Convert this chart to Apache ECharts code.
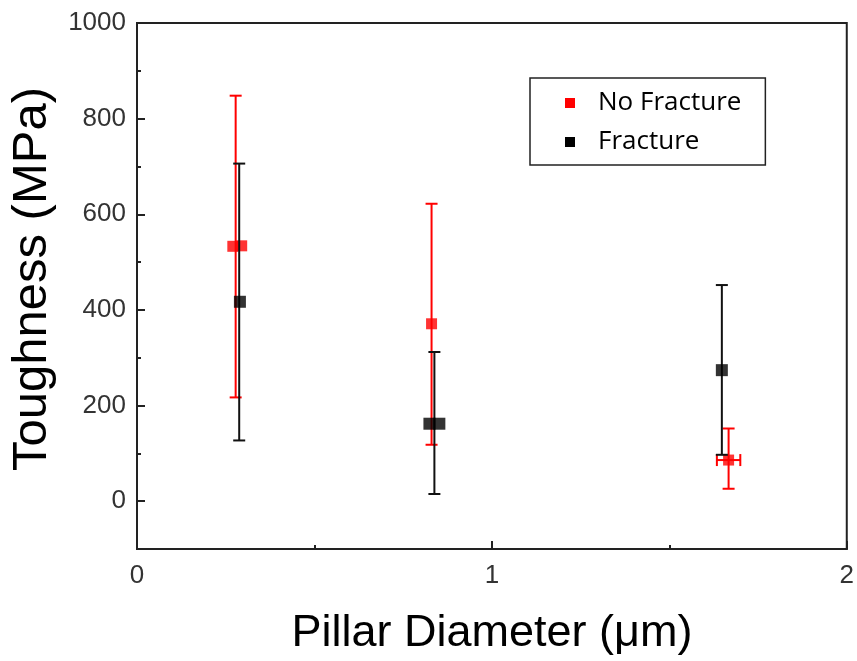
<!DOCTYPE html>
<html>
<head>
<meta charset="utf-8">
<script src="https://cdn.jsdelivr.net/npm/echarts@6/dist/echarts.min.js"></script>
<style>
  html, body { margin: 0; padding: 0; background: #fff; }
  #chart { width: 857px; height: 661px; }
</style>
</head>
<body>
<div id="chart"></div>
<script>
// Toughness of pillars vs. pillar diameter
const seriesNames = ['No Fracture', 'Fracture'];

// No Fracture points
const noFracX = [0.27, 0.295, 0.83, 1.667];
const noFracY = [533, 534, 371, 86];
// No Fracture vertical error bars
const noFracErrX = [0.278, 0.83, 1.667];
const noFracErrLow = [217, 118, 26];
const noFracErrHigh = [848, 622, 152];
// No Fracture horizontal error bar (largest pillar)
const noFracHErrY = [86];
const noFracHErrLow = [1.634];
const noFracHErrHigh = [1.70];

// Fracture points
const fracX = [0.29, 0.824, 0.852, 1.648];
const fracY = [417, 162, 162, 274];
// Fracture vertical error bars
const fracErrX = [0.288, 0.838, 1.648];
const fracErrLow = [127, 15, 97];
const fracErrHigh = [706, 312, 452];

// Axis ticks
const xTicks = [0, 1, 2];
const yLabelTicks = [0, 200, 400, 600, 800, 1000];
const yMinorTicks = [-100, 100, 300, 500, 700, 900];

const RED = '#ff0000';
const BLACK = '#000000';

function pairs(xs, ys) { return xs.map((x, i) => [x, ys[i]]); }

function vErrData(xs, lo, hi) { return xs.map((x, i) => [x, lo[i], hi[i]]); }

function vErrRender(color) {
  return function (params, api) {
    const x = api.value(0);
    const pLo = api.coord([x, api.value(1)]);
    const pHi = api.coord([x, api.value(2)]);
    const cap = 6;
    const style = { stroke: color, lineWidth: 2 };
    return {
      type: 'group',
      children: [
        { type: 'line', shape: { x1: pLo[0], y1: pLo[1], x2: pHi[0], y2: pHi[1] }, style },
        { type: 'line', shape: { x1: pLo[0] - cap, y1: pLo[1], x2: pLo[0] + cap, y2: pLo[1] }, style },
        { type: 'line', shape: { x1: pHi[0] - cap, y1: pHi[1], x2: pHi[0] + cap, y2: pHi[1] }, style }
      ]
    };
  };
}

function hErrRender(color) {
  return function (params, api) {
    const y = api.value(0);
    const pLo = api.coord([api.value(1), y]);
    const pHi = api.coord([api.value(2), y]);
    const cap = 6;
    const style = { stroke: color, lineWidth: 2 };
    return {
      type: 'group',
      children: [
        { type: 'line', shape: { x1: pLo[0], y1: pLo[1], x2: pHi[0], y2: pHi[1] }, style },
        { type: 'line', shape: { x1: pLo[0], y1: pLo[1] - cap, x2: pLo[0], y2: pLo[1] + cap }, style },
        { type: 'line', shape: { x1: pHi[0], y1: pHi[1] - cap, x2: pHi[0], y2: pHi[1] + cap }, style }
      ]
    };
  };
}

const chart = echarts.init(document.getElementById('chart'), null, { renderer: 'canvas' });

const tickLabelStyle = { color: '#333', fontFamily: 'Liberation Sans, Arial, sans-serif', fontSize: 26 };

chart.setOption({
  animation: false,
  backgroundColor: '#fff',
  color: [RED, BLACK],
  grid: {
    left: 137, right: 9, top: 23, bottom: 111,
    show: true, borderColor: '#222', borderWidth: 2, backgroundColor: 'transparent'
  },
  legend: {
    data: [
      { name: seriesNames[0], itemStyle: { color: RED } },
      { name: seriesNames[1], itemStyle: { color: BLACK } }
    ],
    orient: 'vertical',
    left: 530, top: 78,
    padding: [12, 24, 10, 35],
    itemGap: 13,
    itemWidth: 10, itemHeight: 10,
    icon: 'rect',
    borderColor: '#222', borderWidth: 1.5,
    textStyle: { color: '#000', fontFamily: 'Open Sans, sans-serif', fontSize: 26, padding: [0, 0, 0, 18] }
  },
  xAxis: {
    type: 'value', min: 0, max: 2, interval: 1,
    name: 'Pillar Diameter (\u03bcm)', nameLocation: 'middle', nameGap: 62,
    nameTextStyle: { color: '#000', fontFamily: 'Liberation Sans, Arial, sans-serif', fontSize: 45 },
    axisLine: { show: true, onZero: false, lineStyle: { color: '#222', width: 2 } },
    axisTick: { show: true, inside: true, length: 8, lineStyle: { color: '#222', width: 2 } },
    minorTick: { show: true, splitNumber: 2, length: 4, lineStyle: { color: '#222', width: 2 } },
    axisLabel: Object.assign({ margin: 14, customValues: xTicks, formatter: v => String(v) }, tickLabelStyle),
    splitLine: { show: false }
  },
  yAxis: [
    {
      type: 'value', min: -100, max: 1000,
      name: 'Toughness (MPa)', nameLocation: 'middle', nameGap: 77,
      nameTextStyle: { color: '#000', fontFamily: 'Liberation Sans, Arial, sans-serif', fontSize: 49, padding: [0, 0, 0, 14] },
      axisLine: { show: true, onZero: false, lineStyle: { color: '#222', width: 2 } },
      axisTick: { show: true, inside: true, length: 8, customValues: yLabelTicks, lineStyle: { color: '#222', width: 2 } },
      axisLabel: Object.assign({ margin: 11, customValues: yLabelTicks, formatter: v => String(v) }, tickLabelStyle),
      splitLine: { show: false }
    },
    {
      type: 'value', min: -100, max: 1000, position: 'left',
      axisLine: { show: false },
      axisTick: { show: true, inside: true, length: 4, customValues: yMinorTicks, lineStyle: { color: '#222', width: 2 } },
      axisLabel: { show: false },
      splitLine: { show: false }
    }
  ],
  series: [
    {
      name: 'No Fracture', type: 'custom', yAxisIndex: 0, z: 2,
      itemStyle: { color: RED },
      renderItem: vErrRender(RED),
      data: vErrData(noFracErrX, noFracErrLow, noFracErrHigh),
      encode: { x: 0, y: [1, 2] }
    },
    {
      name: 'No Fracture', type: 'custom', yAxisIndex: 0, z: 2,
      itemStyle: { color: RED },
      renderItem: hErrRender(RED),
      data: vErrData(noFracHErrY, noFracHErrLow, noFracHErrHigh),
      encode: { y: 0, x: [1, 2] }
    },
    {
      name: 'No Fracture', type: 'scatter', yAxisIndex: 0, z: 3,
      symbol: 'rect', symbolSize: 11,
      itemStyle: { color: RED },
      data: pairs(noFracX, noFracY)
    },
    {
      name: 'Fracture', type: 'custom', yAxisIndex: 0, z: 4,
      itemStyle: { color: BLACK },
      renderItem: vErrRender('#111'),
      data: vErrData(fracErrX, fracErrLow, fracErrHigh),
      encode: { x: 0, y: [1, 2] }
    },
    {
      name: 'Fracture', type: 'scatter', yAxisIndex: 0, z: 5,
      symbol: 'rect', symbolSize: 12,
      itemStyle: { color: BLACK },
      data: pairs(fracX, fracY)
    }
  ]
});
</script>
</body>
</html>
